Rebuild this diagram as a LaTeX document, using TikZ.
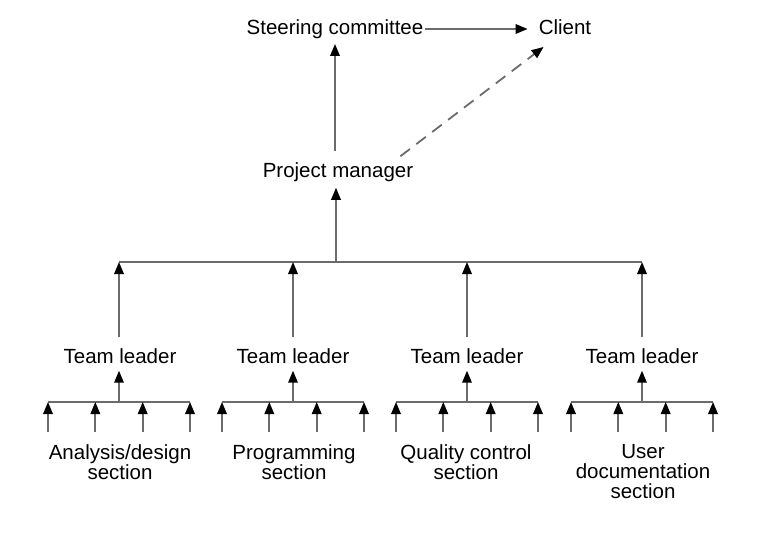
\documentclass[tikz,border=0pt]{standalone}
\usepackage{fontspec}
\setmainfont{Liberation Sans}
\usetikzlibrary{arrows.meta}

\begin{document}
\begin{tikzpicture}[x=1pt,y=-1pt,
    lbl/.style={font=\fontsize{20.5}{20}\selectfont,inner sep=1pt,align=center},
    top/.style={lbl,text height=15pt,text depth=4.5pt},
    wire/.style={draw=black!58,line width=1.8pt},
    conn/.style={wire,-{Triangle[length=12pt,width=9.5pt,color=black]}}]

      \useasboundingbox (0,0) rectangle (766,533);

      \node [top] (steer) at (335,29) {Steering committee};
      \node [top] (client) at (565,29) {Client};
      \node [lbl] (pm) at (338,172) {Project manager};

      \draw [conn,shorten >=10pt] (steer.east) -- (client.west);
      \draw [conn,shorten <=10pt,shorten >=4pt] (pm.north -| steer) -- (steer.south);
      \draw [conn,dash pattern=on 12pt off 8pt] ([shift={(-14,-5)}]pm.north east) -- ([shift={(6,7)}]client.south west);

      \node [lbl] (tl1) at (120,356) {Team leader};
      \node [lbl] (tl2) at (293,356) {Team leader};
      \node [lbl] (tl3) at (467,356) {Team leader};
      \node [lbl] (tl4) at (642,356) {Team leader};

      \coordinate (hub) at (336,262);
      \coordinate (b1) at (119,262);
      \coordinate (b2) at (293,262);
      \coordinate (b3) at (467,262);
      \coordinate (b4) at (642,262);

      \draw [wire] (b1) -- (b4);
      \draw [conn,shorten >=5pt] (hub) -- (pm.south -| hub);

      \draw [conn,shorten <=10pt] (tl1.north -| b1) -- (b1);
      \draw [conn,shorten <=10pt] (tl2.north -| b2) -- (b2);
      \draw [conn,shorten <=10pt] (tl3.north -| b3) -- (b3);
      \draw [conn,shorten <=10pt] (tl4.north -| b4) -- (b4);

      \node [lbl,anchor=north] (sec1) at (120,443) {Analysis/design\\section};
      \node [lbl,anchor=north] (sec2) at (294,443) {Programming\\section};
      \node [lbl,anchor=north] (sec3) at (466,443) {Quality control\\section};
      \node [lbl,anchor=north] (sec4) at (643,443) {User\\documentation\\section};

      \foreach \g/\x in {1/119,2/293,3/467,4/642} {
        \coordinate (m\g) at (\x,402);
        \coordinate (l\g) at (\x-71,402);
        \coordinate (r\g) at (\x+71,402);
        \draw [wire] (l\g) -- (r\g);
        \draw [conn,shorten >=6pt] (m\g) -- (tl\g.south -| m\g);
        \foreach \d in {-71,-23.7,23.7,71} {
          \coordinate (s) at (\x+\d,432);
          \coordinate (t) at (\x+\d,402);
          \draw [conn] (s) -- (t);
        }
      }
  \end{tikzpicture}
\end{document}
